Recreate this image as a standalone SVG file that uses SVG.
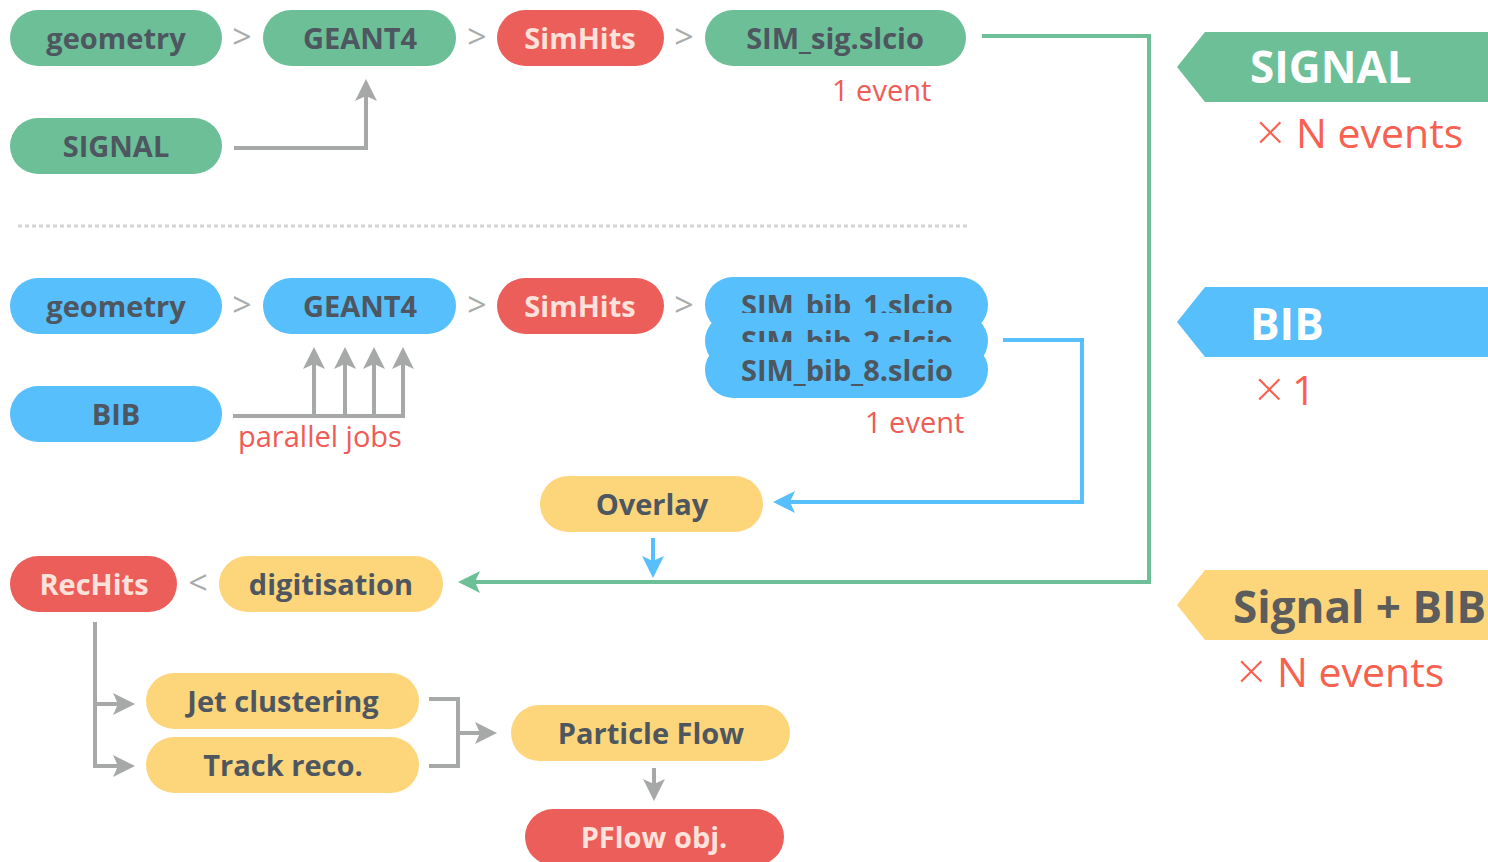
<svg xmlns="http://www.w3.org/2000/svg" width="1488" height="862" viewBox="0 0 1488 862">
<style>
.g{fill:#6CBF97}.b{fill:#56BFFC}.r{fill:#EC5E5A}.y{fill:#FDD67C}
.t{font-family:"Open Sans","Liberation Sans",sans-serif;font-weight:700;font-size:29px;fill:#4E5660;text-anchor:middle}
.tr{font-family:"Open Sans","Liberation Sans",sans-serif;font-weight:700;font-size:29px;fill:#FDE1DB;text-anchor:middle}
.sep{font-family:"Open Sans","Liberation Sans",sans-serif;font-size:34px;fill:#A8ABAA;text-anchor:middle}
.lab{font-family:"Open Sans","Liberation Sans",sans-serif;font-size:29px;fill:#EE5C55}
.ban{font-family:"Open Sans","Liberation Sans",sans-serif;font-weight:700;font-size:44px}
.mul{font-family:"Open Sans","Liberation Sans",sans-serif;font-size:41px;fill:#F8614F}
.x{font-family:"Open Sans","Liberation Sans",sans-serif;font-weight:300;font-size:50px;fill:#F8614F}
.cg{fill:none;stroke:#A6A9A8;stroke-width:4}
.cb{fill:none;stroke:#56BFFC;stroke-width:4}
.cgr{fill:none;stroke:#6CBF97;stroke-width:4}
</style>
<defs>
<marker id="ag" markerUnits="userSpaceOnUse" markerWidth="22" markerHeight="22" refX="13" refY="11" orient="auto"><path d="M0,0 L22,11 L0,22 L5,11 z" fill="#A6A9A8"/></marker>
<marker id="ab" markerUnits="userSpaceOnUse" markerWidth="22" markerHeight="22" refX="13" refY="11" orient="auto"><path d="M0,0 L22,11 L0,22 L5,11 z" fill="#56BFFC"/></marker>
<marker id="agr" markerUnits="userSpaceOnUse" markerWidth="22" markerHeight="22" refX="13" refY="11" orient="auto"><path d="M0,0 L22,11 L0,22 L5,11 z" fill="#6CBF97"/></marker>
</defs>
<rect width="1488" height="862" fill="#fff"/>

<line x1="18" y1="226" x2="970" y2="226" stroke="#D4D4D4" stroke-width="3" stroke-dasharray="4 3"/>

<g id="connectors">
<path class="cg" d="M234,148 H366 V88" marker-end="url(#ag)"/>
<path class="cg" d="M233,416 H403 V356" marker-end="url(#ag)"/>
<path class="cg" d="M314,416 V356" marker-end="url(#ag)"/>
<path class="cg" d="M345,416 V356" marker-end="url(#ag)"/>
<path class="cg" d="M374,416 V356" marker-end="url(#ag)"/>
<path class="cb" d="M1003,340 H1082 V502 H782" marker-end="url(#ab)"/>
<path class="cb" d="M653,538 V569" marker-end="url(#ab)"/>
<path class="cgr" d="M982,36 H1149 V582 H467" marker-end="url(#agr)"/>
<path class="cg" d="M95,622 V766 H126" marker-end="url(#ag)"/>
<path class="cg" d="M95,704 H126" marker-end="url(#ag)"/>
<path class="cg" d="M429,699 H458 V766 H429"/>
<path class="cg" d="M458,733 H488" marker-end="url(#ag)"/>
<path class="cg" d="M654,768 V792" marker-end="url(#ag)"/>
</g>

<g id="sig-geometry"><rect class="g" x="10" y="10" width="212" height="56" rx="28"/><text class="t" x="116" y="49">geometry</text></g>
<text class="sep" x="242" y="49">&gt;</text>
<g id="sig-geant4"><rect class="g" x="263" y="10" width="193" height="56" rx="28"/><text class="t" x="360" y="49">GEANT4</text></g>
<text class="sep" x="477" y="49">&gt;</text>
<g id="sig-simhits"><rect class="r" x="497" y="10" width="167" height="56" rx="28"/><text class="tr" x="580" y="49">SimHits</text></g>
<text class="sep" x="684" y="49">&gt;</text>
<g id="sim-sig"><rect class="g" x="705" y="10" width="261" height="56" rx="28"/><text class="t" x="835" y="49">SIM_sig.slcio</text></g>
<text class="lab" x="832" y="101">1 event</text>
<g id="signal-src"><rect class="g" x="10" y="118" width="212" height="56" rx="28"/><text class="t" x="116" y="157">SIGNAL</text></g>

<g id="bib-geometry"><rect class="b" x="10" y="278" width="212" height="56" rx="28"/><text class="t" x="116" y="317">geometry</text></g>
<text class="sep" x="242" y="317">&gt;</text>
<g id="bib-geant4"><rect class="b" x="263" y="278" width="193" height="56" rx="28"/><text class="t" x="360" y="317">GEANT4</text></g>
<text class="sep" x="477" y="317">&gt;</text>
<g id="bib-simhits"><rect class="r" x="497" y="278" width="167" height="56" rx="28"/><text class="tr" x="580" y="317">SimHits</text></g>
<text class="sep" x="684" y="317">&gt;</text>
<g id="sim-bib">
<rect class="b" x="705" y="277" width="283" height="56" rx="28"/><text class="t" x="847" y="316">SIM_bib_1.slcio</text>
<rect class="b" x="705" y="313" width="283" height="56" rx="28"/><text class="t" x="847" y="352">SIM_bib_2.slcio</text>
<rect class="b" x="705" y="342" width="283" height="56" rx="28"/><text class="t" x="847" y="381">SIM_bib_8.slcio</text>
</g>
<text class="lab" x="865" y="433">1 event</text>
<g id="bib-src"><rect class="b" x="10" y="386" width="212" height="56" rx="28"/><text class="t" x="116" y="425">BIB</text></g>
<text class="lab" x="238" y="447">parallel jobs</text>

<g id="overlay"><rect class="y" x="540" y="476" width="223" height="56" rx="28"/><text class="t" x="652" y="515">Overlay</text></g>
<g id="rechits"><rect class="r" x="10" y="556" width="167" height="56" rx="28"/><text class="tr" x="94" y="595">RecHits</text></g>
<text class="sep" x="198" y="595">&lt;</text>
<g id="digitisation"><rect class="y" x="219" y="556" width="224" height="56" rx="28"/><text class="t" x="331" y="595">digitisation</text></g>
<g id="jet"><rect class="y" x="146" y="673" width="273" height="56" rx="28"/><text class="t" x="283" y="712">Jet clustering</text></g>
<g id="track"><rect class="y" x="146" y="737" width="273" height="56" rx="28"/><text class="t" x="283" y="776">Track reco.</text></g>
<g id="pflow"><rect class="y" x="511" y="705" width="279" height="56" rx="28"/><text class="t" x="651" y="744">Particle Flow</text></g>
<g id="pflow-obj"><rect class="r" x="525" y="809" width="259" height="56" rx="28"/><text class="tr" x="654" y="848">PFlow obj.</text></g>

<g id="banner-signal">
<polygon class="g" points="1177,67 1205,32 1488,32 1488,102 1205,102"/>
<text class="ban" x="1250" y="83" fill="#fff">SIGNAL</text>
<text class="x" x="1256" y="150">×</text>
<text class="mul" x="1296" y="148">N events</text>
</g>
<g id="banner-bib">
<polygon class="b" points="1177,322 1205,287 1488,287 1488,357 1205,357"/>
<text class="ban" x="1250" y="340" fill="#fff">BIB</text>
<text class="x" x="1255" y="407">×</text>
<text class="mul" x="1292" y="405">1</text>
</g>
<g id="banner-both">
<polygon class="y" points="1177,605 1205,570 1488,570 1488,640 1205,640"/>
<text class="ban" x="1233" y="623" fill="#5C5C5C">Signal + BIB</text>
<text class="x" x="1237" y="689">×</text>
<text class="mul" x="1277" y="687">N events</text>
</g>
</svg>
